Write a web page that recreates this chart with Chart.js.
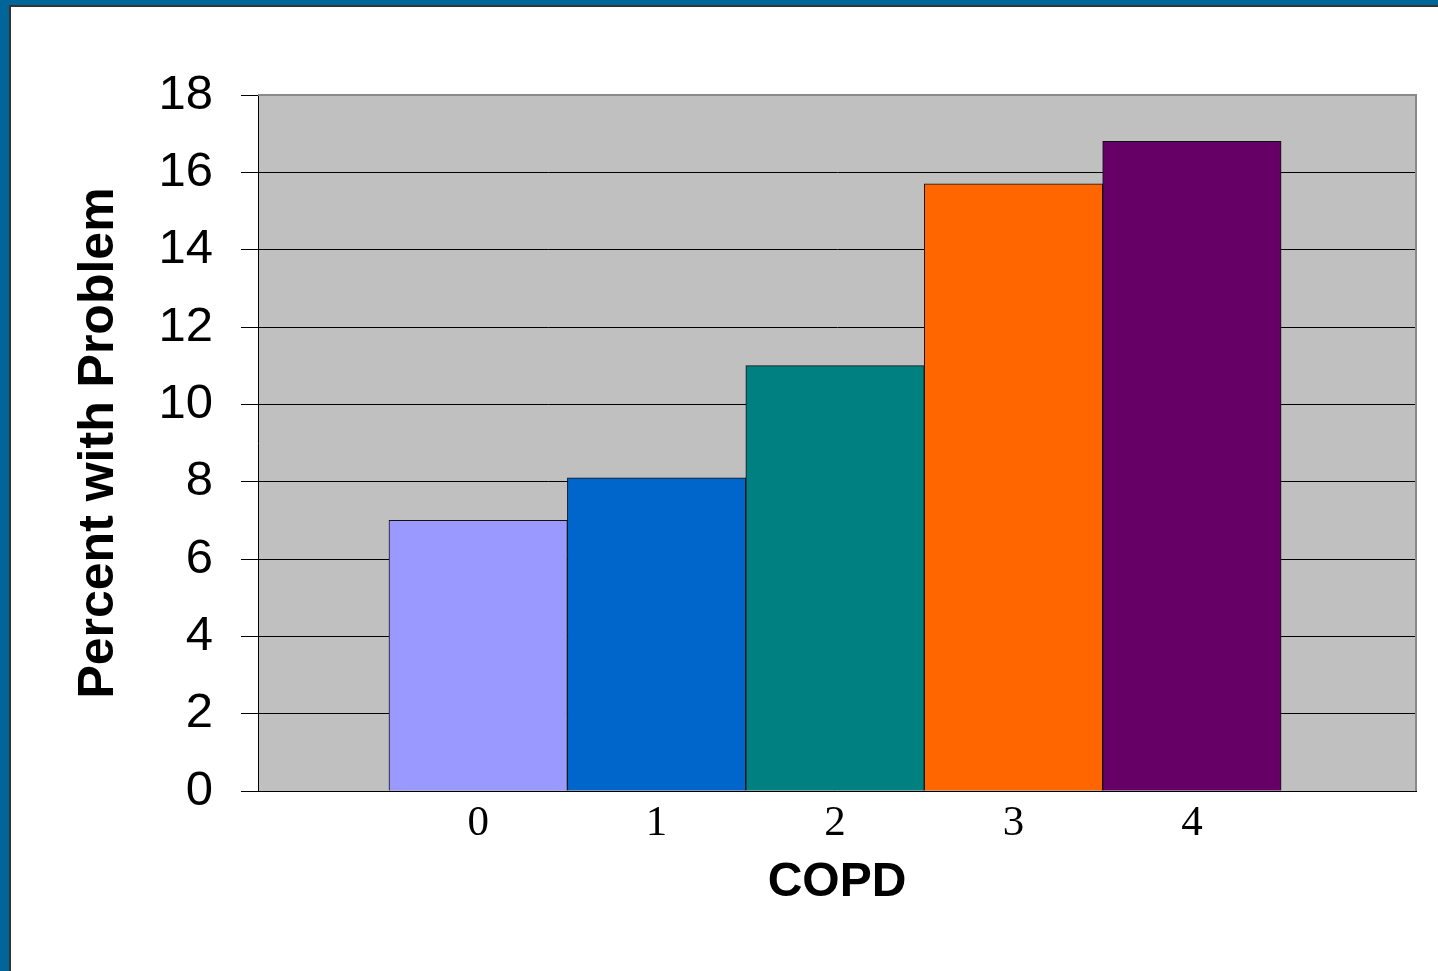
<!DOCTYPE html>
<html>
<head>
<meta charset="utf-8">
<title>Percent with Problem by COPD</title>
<script src="https://cdn.jsdelivr.net/npm/chart.js@4"></script>
<style>
  html, body { margin: 0; padding: 0; background: #ffffff; }
  body { width: 1438px; height: 971px; position: relative; overflow: hidden; }
  #frameBlue { position: absolute; left: 0; top: 0; width: 1438px; height: 971px;
               border-top: 5px solid #00669A; border-left: 9px solid #00669A; box-sizing: border-box; }
  #frameDark { position: absolute; left: 9px; top: 5px; right: 0; bottom: 0;
               border-top: 2px solid #333333; border-left: 2px solid #333333; box-sizing: border-box; }
  #chart { position: absolute; left: 0; top: 0; }
</style>
</head>
<body>
<div id="frameBlue"></div>
<div id="frameDark"></div>
<canvas id="chart" width="1438" height="971"></canvas>
<script>
// COPD score categories and the share of people reporting the problem (%)
const categories = ['0', '1', '2', '3', '4'];
const percentWithProblem = [7.0, 8.1, 11.0, 15.7, 16.8];
const barColors = ['#9999FF', '#0066CC', '#008080', '#FF6600', '#660066'];
const yTickValues = [0, 2, 4, 6, 8, 10, 12, 14, 16, 18];

// Grey plot background and the light frame on the top/right of the plot
const plotFrame = {
  id: 'plotFrame',
  beforeDraw(chart) {
    const a = chart.chartArea, ctx = chart.ctx;
    ctx.save();
    ctx.fillStyle = '#C0C0C0';
    ctx.fillRect(a.left, a.top, a.right - a.left, a.bottom - a.top);
    ctx.restore();
  },
  afterDatasetsDraw(chart) {
    const a = chart.chartArea, ctx = chart.ctx;
    ctx.save();
    ctx.strokeStyle = '#8A8A8A';
    ctx.lineWidth = 2;
    ctx.beginPath();
    ctx.moveTo(a.left, a.top);
    ctx.lineTo(a.right, a.top);
    ctx.lineTo(a.right, a.bottom);
    ctx.stroke();
    ctx.restore();
  }
};

new Chart(document.getElementById('chart'), {
  type: 'bar',
  data: {
    datasets: [{
      data: categories.map((c, i) => ({ x: i, y: percentWithProblem[i] })),
      backgroundColor: barColors,
      borderColor: '#111111',
      borderWidth: 1,
      barPercentage: 1.0,
      categoryPercentage: 1.0
    }]
  },
  plugins: [plotFrame],
  options: {
    responsive: false,
    animation: false,
    layout: { padding: { top: 95, right: 22, bottom: 0, left: 0 } },
    plugins: { legend: { display: false }, tooltip: { enabled: false } },
    scales: {
      x: {
        type: 'linear',
        offset: false,
        min: -1.234,
        max: 5.256,
        afterBuildTicks(scale) { scale.ticks = categories.map((c, i) => ({ value: i })); },
        afterFit(scale) { scale.height = 180; },
        grid: { display: false, drawTicks: false },
        border: { display: true, color: '#000000', width: 1 },
        ticks: {
          padding: 7,
          color: '#000000',
          font: { family: '"Liberation Serif", "Times New Roman", serif', size: 43 },
          callback: (v) => categories[v]
        },
        title: {
          display: true,
          text: 'COPD',
          color: '#000000',
          font: { family: '"Liberation Sans", Arial, sans-serif', size: 48, weight: 'bold' },
          padding: { top: 0, bottom: 59 }
        }
      },
      y: {
        min: 0,
        max: 18,
        afterBuildTicks(scale) { scale.ticks = yTickValues.map(v => ({ value: v })); },
        afterFit(scale) { scale.width = 258; },
        grid: {
          color: (ctx) => (ctx.tick && ctx.tick.value === 18) ? '#8A8A8A' : '#000000',
          tickColor: '#000000',
          lineWidth: 1,
          tickLength: 17
        },
        border: { display: true, color: '#000000', width: 1 },
        ticks: {
          padding: 28,
          color: '#000000',
          font: { family: '"Liberation Sans", Arial, sans-serif', size: 49 }
        },
        title: {
          display: true,
          text: 'Percent with Problem',
          color: '#000000',
          font: { family: '"Liberation Sans", Arial, sans-serif', size: 50, weight: 'bold' },
          padding: { top: 69, bottom: 0 }
        }
      }
    }
  }
});
</script>
</body>
</html>
